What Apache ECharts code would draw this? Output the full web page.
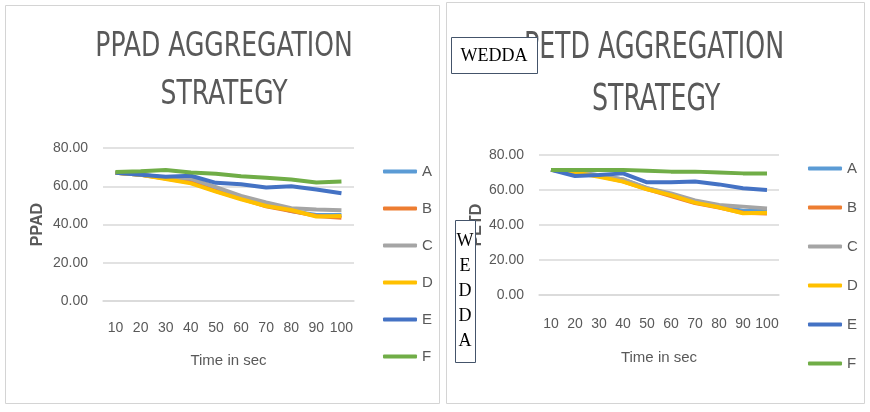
<!DOCTYPE html>
<html>
<head>
<meta charset="utf-8">
<script src="https://cdn.jsdelivr.net/npm/echarts@6/dist/echarts.min.js"></script>
<style>
  html, body { margin: 0; padding: 0; background: #fff; }
  #main { width: 870px; height: 412px; }
</style>
</head>
<body>
<div id="main"></div>
<script>
var categories = ['10', '20', '30', '40', '50', '60', '70', '80', '90', '100'];
var seriesNames = ['A', 'B', 'C', 'D', 'E', 'F'];
var yTicks = [0, 20, 40, 60, 80];

// PPAD (left chart)
var ppadA = [67.0, 66.0, 64.5, 63.0, 58.5, 54.5, 50.5, 47.0, 45.0, 45.0];
var ppadB = [67.0, 66.0, 64.0, 62.0, 57.5, 53.5, 49.5, 47.0, 44.5, 43.5];
var ppadC = [67.0, 66.2, 64.5, 64.0, 59.5, 55.0, 51.5, 48.5, 47.8, 47.5];
var ppadD = [67.0, 66.0, 63.8, 61.5, 57.2, 53.2, 49.7, 47.6, 44.2, 44.4];
var ppadE = [67.0, 66.0, 65.0, 65.5, 61.8, 61.0, 59.3, 60.0, 58.3, 56.3];
var ppadF = [67.5, 67.8, 68.5, 67.2, 66.5, 65.2, 64.5, 63.5, 62.0, 62.5];

// PETD (right chart)
var petdA = [71.5, 70.0, 68.5, 66.0, 61.0, 57.5, 53.5, 51.0, 48.0, 48.0];
var petdB = [71.5, 70.0, 68.0, 65.0, 60.5, 56.5, 52.5, 50.0, 47.0, 46.5];
var petdC = [71.5, 70.0, 68.5, 66.0, 61.0, 58.0, 54.0, 51.4, 50.5, 49.5];
var petdD = [71.5, 70.0, 67.6, 64.8, 60.4, 57.1, 52.8, 50.1, 46.7, 47.0];
var petdE = [71.5, 68.0, 68.6, 69.5, 64.4, 64.4, 64.8, 63.2, 61.0, 60.0];
var petdF = [71.5, 71.5, 71.5, 71.5, 71.0, 70.5, 70.5, 70.0, 69.5, 69.5];

var colors = ['#5B9BD5', '#ED7D31', '#A5A5A5', '#FFC000', '#4472C4', '#70AD47'];
var narrow = "'DejaVu Sans Condensed', sans-serif";
var plain = "'Liberation Sans', Arial, sans-serif";
var grayText = '#595959';

var chartDom = document.getElementById('main');
var myChart = echarts.init(chartDom);

function yAxisFor(gridIndex, name) {
  return {
    gridIndex: gridIndex,
    type: 'value',
    min: yTicks[0],
    max: yTicks[yTicks.length - 1],
    interval: 20,
    name: name,
    nameLocation: 'middle',
    nameGap: gridIndex === 0 ? 57 : 52,
    nameTextStyle: { color: grayText, fontSize: 16, fontWeight: 'bold', fontFamily: plain },
    axisLine: { show: false },
    axisTick: { show: false },
    axisLabel: {
      margin: 15,
      color: grayText,
      fontSize: 14,
      fontFamily: plain,
      formatter: function (v) { return v.toFixed(2); }
    },
    splitLine: { lineStyle: { color: '#d9d9d9', width: 1.5 } }
  };
}

function xAxisFor(gridIndex) {
  return {
    gridIndex: gridIndex,
    type: 'category',
    data: categories,
    name: 'Time in sec',
    nameLocation: 'middle',
    nameGap: gridIndex === 0 ? 52 : 55,
    nameTextStyle: { color: grayText, fontSize: 15, fontFamily: plain },
    axisLine: { lineStyle: { color: '#d9d9d9', width: 1.5 } },
    axisTick: { show: false },
    axisLabel: { margin: gridIndex === 0 ? 20 : 22, color: grayText, fontSize: 14, fontFamily: plain, interval: 0 }
  };
}

var leftData = [ppadA, ppadB, ppadC, ppadD, ppadE, ppadF];
var rightData = [petdA, petdB, petdC, petdD, petdE, petdF];
var series = [];
[leftData, rightData].forEach(function (set, gi) {
  set.forEach(function (vals, i) {
    series.push({
      name: seriesNames[i],
      type: 'line',
      xAxisIndex: gi,
      yAxisIndex: gi,
      data: vals,
      showSymbol: false,
      symbol: 'none',
      lineStyle: { width: 4, color: colors[i] },
      itemStyle: { color: colors[i] },
      emphasis: { disabled: true }
    });
  });
});

function legendFor(left, top, gap) {
  return {
    orient: 'vertical',
    left: left,
    top: top,
    data: seriesNames,
    icon: 'roundRect',
    itemWidth: 34,
    itemHeight: 4,
    itemGap: gap,
    itemTextGap: 3,
    textStyle: { color: grayText, fontSize: 15, fontFamily: plain }
  };
}

function titleLine(text, x, y, size, sx) {
  return {
    type: 'text', x: x, y: y, scaleX: sx, z: 50,
    style: { text: text, fill: grayText, fontSize: size, fontFamily: narrow,
             align: 'center', verticalAlign: 'middle' }
  };
}

var option = {
  backgroundColor: '#fff',
  color: colors,
  animation: false,
  legend: [legendFor(378, 159, 22), legendFor(803, 156, 24)],
  grid: [
    { left: 103, top: 148, width: 251, height: 153 },
    { left: 539, top: 155, width: 240, height: 140 }
  ],
  xAxis: [xAxisFor(0), xAxisFor(1)],
  yAxis: [yAxisFor(0, 'PPAD'), yAxisFor(1, 'PETD')],
  series: series,
  graphic: [
    { type: 'rect', z: -1, shape: { x: 5.5, y: 5.5, width: 434, height: 398 },
      style: { fill: '#fff', stroke: '#d4d4d4', lineWidth: 1 } },
    { type: 'rect', z: -1, shape: { x: 446.5, y: 2.5, width: 418, height: 401 },
      style: { fill: '#fff', stroke: '#d4d4d4', lineWidth: 1 } },
    titleLine('PPAD AGGREGATION', 224, 47, 34, 0.82),
    titleLine('STRATEGY', 224, 95, 34, 0.82),
    titleLine('PETD AGGREGATION', 654, 48, 38, 0.74),
    titleLine('STRATEGY', 656, 100, 38, 0.74),
    { type: 'rect', z: 100, shape: { x: 451.5, y: 37.5, width: 86, height: 36 },
      style: { fill: '#fff', stroke: '#44546a', lineWidth: 1 } },
    { type: 'text', z: 101, x: 494, y: 56,
      style: { text: 'WEDDA', fill: '#000', fontSize: 18, fontFamily: "'Liberation Serif', serif",
               align: 'center', verticalAlign: 'middle' } },
    { type: 'rect', z: 100, shape: { x: 455.5, y: 220.5, width: 20, height: 142 },
      style: { fill: '#fff', stroke: '#44546a', lineWidth: 1 } },
    { type: 'text', z: 101, x: 465, y: 291,
      style: { text: 'W\nE\nD\nD\nA', fill: '#000', fontSize: 18, lineHeight: 25,
               fontFamily: "'Liberation Serif', serif", align: 'center', verticalAlign: 'middle' } }
  ]
};

option && myChart.setOption(option);
window.addEventListener('resize', function () {
  myChart.resize();
});
</script>
</body>
</html>
